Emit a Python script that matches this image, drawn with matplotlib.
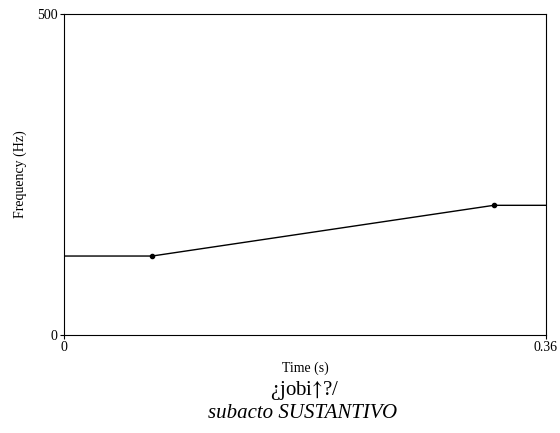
import matplotlib
matplotlib.use('Agg')
from matplotlib import pyplot as plt

# pitch contour points (time in s, frequency in Hz)
times = [0.0, 0.0658, 0.321, 0.36]
freqs = [123, 123, 202, 202]
# the two marked targets
target_times = [0.0658, 0.321]
target_freqs = [123, 202]

plt.rcParams['font.family'] = ['Liberation Serif', 'DejaVu Serif']
plt.rcParams['mathtext.fontset'] = 'stix'

fig = plt.figure(figsize=(5.6, 4.33), dpi=100)
ax = fig.add_axes([64 / 560, 1 - 335 / 433, (546 - 64) / 560, (335 - 14) / 433])

ax.plot(times, freqs, color='black', lw=1.0)
ax.plot(target_times, target_freqs, 'o', color='black', ms=3)

ax.set_xlim(0, 0.36)
ax.set_ylim(0, 500)
ax.set_xticks([0, 0.36])
ax.set_xticklabels(['0', '0.36'])
ax.set_yticks([0, 500])
ax.set_yticklabels(['0', '500'])
ax.tick_params(direction='out', length=3, width=0.8, labelsize=10, pad=1.5)
for s in ax.spines.values():
    s.set_linewidth(0.8)

ax.set_xlabel('Time (s)', fontsize=10, labelpad=5)
ax.set_ylabel('Frequency (Hz)', fontsize=10, labelpad=7)

# arrow through mathtext (stix) so it is as tall as the letters
fig.text(305 / 560, 1 - 391 / 433, '¿jobi$↑$?/', ha='center', va='center', fontsize=15)
fig.text(303 / 560, 1 - 413 / 433, 'subacto SUSTANTIVO', ha='center', va='center',
         fontsize=15, style='italic')

fig.savefig('out.png', dpi=100)
